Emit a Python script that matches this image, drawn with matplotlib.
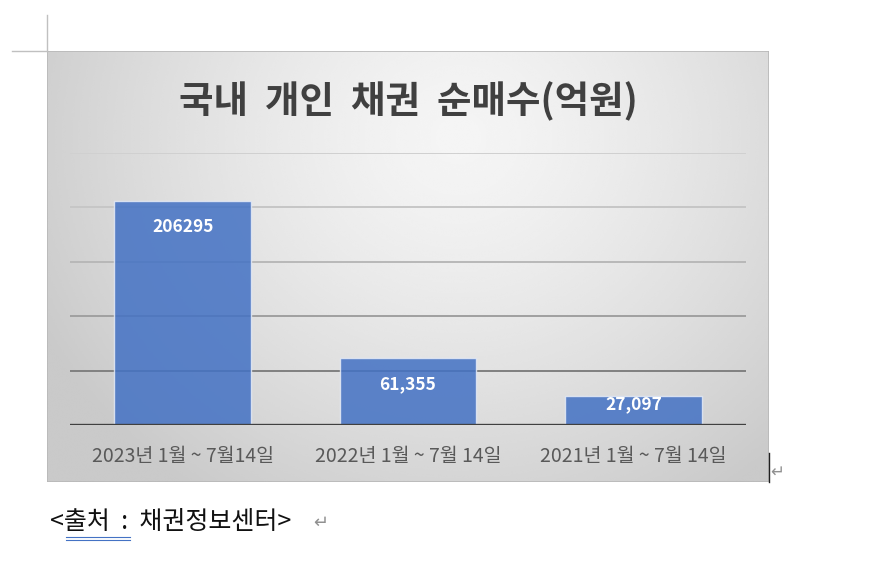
import numpy as np
import matplotlib
matplotlib.use('Agg')
import matplotlib.pyplot as plt
from matplotlib.lines import Line2D
from matplotlib.patches import Rectangle

plt.rcParams['font.family'] = ['Noto Sans CJK KR', 'DejaVu Sans']

# chart data
title = '국내  개인  채권  순매수(억원)'
categories = ['2023년 1월 ~ 7월14일', '2022년 1월 ~ 7월 14일', '2021년 1월 ~ 7월 14일']
values = [206295, 61355, 27097]
value_labels = ['206295', '61,355', '27,097']
grid_ticks = [50000, 100000, 150000, 200000, 250000]
grid_colors = ['#808080', '#a0a0a0', '#b8b8b8', '#c6c6c6', '#d0d0d0']
source_text = '<출처  :  채권정보센터>'

W, H = 891, 561
fig = plt.figure(figsize=(W / 100, H / 100), dpi=100, facecolor='white')

def fx(px):
    return px / W

def fy(py):
    return 1 - py / H

# chart area with radial gradient
cl, ct, cr, cb = 47, 51, 769, 482
bg = fig.add_axes([fx(cl), fy(cb), fx(cr - cl), (cb - ct) / H])
bg.set_axis_off()
gx, gy = np.meshgrid(np.linspace(0, 1, 400), np.linspace(0, 1, 300))
r = np.sqrt(((gx - 0.57) / 0.65) ** 2 + ((gy - 0.2) / 1.0) ** 2)
r = np.clip(r, 0, 1)
shade = 0.96 - 0.17 * r ** 1.4
bg.imshow(shade, cmap='gray', vmin=0, vmax=1, aspect='auto',
          extent=[0, 1, 1, 0], interpolation='bicubic')
bg.set_xlim(0, 1)
bg.set_ylim(1, 0)
bg.add_patch(Rectangle((0, 0), 1, 1, fill=False, edgecolor='#b8b8b8', lw=1.2,
                       transform=bg.transAxes))

# plot area
pl, pt, pr, pb = 70, 153, 746, 425
ax = fig.add_axes([fx(pl), fy(pb), fx(pr - pl), (pb - pt) / H])
ax.set_facecolor('none')
x = np.arange(len(categories))
ax.set_xlim(-0.5, len(categories) - 0.5)
ax.set_ylim(0, 250000)
for t, c in zip(grid_ticks, grid_colors):
    ax.axhline(t, color=c, lw=1.4, zorder=1)
ax.axhline(0, color='#404040', lw=2.4, zorder=4)
bars = ax.bar(x, values, width=0.607, color='#4472C4', alpha=0.86,
              edgecolor='#e4eaf6', linewidth=1.0, zorder=3)
for sp in ax.spines.values():
    sp.set_visible(False)
ax.set_yticks([])
ax.set_xticks(x)
ax.set_xticklabels(categories, color='#595959', fontsize=14)
ax.tick_params(axis='x', length=0, pad=15)

# value labels inside bar top
px_per_unit = (pb - pt) / 250000
for xi, v, lab in zip(x, values, value_labels):
    hpx = v * px_per_unit
    off = min(17, max(0, hpx - 30))
    ax.annotate(lab, (xi, v), xytext=(0, -off * 0.72), textcoords='offset points',
                ha='center', va='top', color='white', fontsize=12.5,
                fontweight='bold', zorder=5)

fig.text(fx(408), fy(101), title, ha='center', va='center', fontsize=27,
         fontweight='bold', color='#404040')

# document decorations
fig.add_artist(Line2D([fx(47), fx(47)], [fy(15), fy(51)], color='#c0c0c0', lw=1))
fig.add_artist(Line2D([fx(12), fx(47)], [fy(51), fy(51)], color='#c0c0c0', lw=1))
fig.add_artist(Line2D([fx(768.5), fx(768.5)], [fy(453), fy(482)], color='#202020', lw=1))
fig.text(fx(770), fy(472), '↵', ha='left', va='center', fontsize=12,
         color='#909090', family='DejaVu Sans')
fig.text(fx(50), fy(522), source_text, ha='left', va='center', fontsize=18,
         color='#111111')
fig.add_artist(Line2D([fx(66), fx(130)], [fy(536.5), fy(536.5)], color='#4472C4', lw=0.8))
fig.add_artist(Line2D([fx(66), fx(130)], [fy(539.5), fy(539.5)], color='#4472C4', lw=0.8))
fig.text(fx(313), fy(523), '↵', ha='left', va='center', fontsize=13,
         color='#909090', family='DejaVu Sans')

fig.savefig('out.png', dpi=100, facecolor='white')
